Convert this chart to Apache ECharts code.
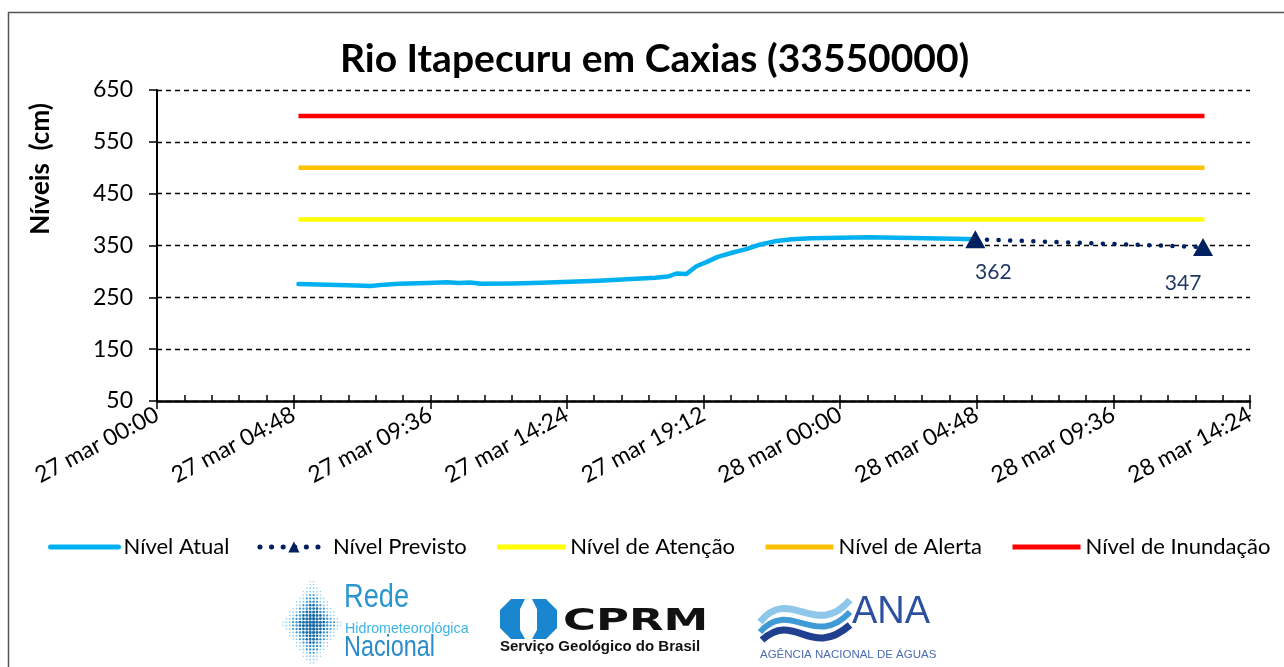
<!DOCTYPE html>
<html><head><meta charset="utf-8">
<script src="https://cdn.jsdelivr.net/npm/echarts@6/dist/echarts.min.js"></script>
<style>html,body{margin:0;padding:0;background:#fff}#c{width:1284px;height:667px}</style>
</head><body><div id="c"></div>
<script>
// ---------- data ----------
const chartTitle = 'Rio Itapecuru em Caxias (33550000)';
const yAxisTitle = 'Níveis  (cm)';
const yTickLabels = [50, 150, 250, 350, 450, 550, 650];
const xTickLabels = ['27 mar 00:00','27 mar 04:48','27 mar 09:36','27 mar 14:24','27 mar 19:12',
                     '28 mar 00:00','28 mar 04:48','28 mar 09:36','28 mar 14:24'];
// hours since 27 mar 00:00
const atualHours  = [4.97, 6.0, 7.0, 7.5, 8.0, 8.5, 9.5, 10.2, 10.6, 11.0, 11.4, 12.5, 13.5, 14.5, 15.5, 16.5, 17.5, 17.95, 18.25, 18.6, 18.95, 19.3, 19.7, 20.2, 20.7, 21.2, 21.7, 22.3, 23.0, 24.0, 25.0, 26.0, 27.0, 28.0, 28.75];
const atualValues = [275.5, 274.5, 273, 272, 274.5, 276, 277.5, 279, 277.5, 278.5, 276, 276.5, 278, 280, 282, 285, 288, 290, 296, 295, 310, 318, 328, 336, 343, 352, 358, 362, 364, 365, 366, 365, 364, 363, 362];
const previstoHours  = [28.75, 36.75];
const previstoValues = [362, 347];
const limiarHours = [4.97, 36.8];
const nivelAtencao = 400;
const nivelAlerta = 500;
const nivelInundacao = 600;

// ---------- chart ----------
const FONT = 'Lato';
const zip = (a, b) => a.map((v, i) => [v, b[i]]);
const flat = (hours, v) => hours.map(h => [h, v]);

const graphics = [];
// frame
graphics.push({type:'polyline', shape:{points:[[8.5,667],[8.5,12.5],[1284,12.5]]}, style:{stroke:'#555', lineWidth:1.5, fill:null}, silent:true});
// y axis title
graphics.push({type:'text', x:41, y:169, rotation:Math.PI/2, style:{text:yAxisTitle, font:'bold 26px Lato', fill:'#000', align:'center', verticalAlign:'middle'}, silent:true});
// Rede logo dots
for (let x = 283; x <= 343; x += 3.4) {
  for (let y = 578; y <= 665; y += 3.4) {
    const d = Math.abs(x - 312) / 31 + Math.abs(y - 624) / 46;
    if (d <= 1) {
      const t = 1 - d;
      const r = 0.7 + 1.2 * t;
      const c = t > 0.5 ? '#1d6ea6' : (t > 0.25 ? '#3a97cf' : '#8fcfee');
      graphics.push({type:'circle', shape:{cx:x, cy:y, r:r}, style:{fill:c}, silent:true});
    }
  }
}
graphics.push({type:'text', x:344, y:581, scaleX:0.8, style:{text:'Rede', font:'34px "Liberation Sans"', fill:'#2a96cf'}, silent:true});
graphics.push({type:'text', x:345, y:621, scaleX:0.95, style:{text:'Hidrometeorológica', font:'15px "Liberation Sans"', fill:'#3db4e6'}, silent:true});
graphics.push({type:'text', x:344, y:633, scaleX:0.78, style:{text:'Nacional', font:'30px "Liberation Sans"', fill:'#2a8cc8'}, silent:true});
// CPRM logo
graphics.push({type:'polygon', shape:{points:[[511,599],[525,599],[520,609],[520,630],[525,639],[511,639],[500,628],[500,610]]}, style:{fill:'#1a86d0'}, silent:true});
graphics.push({type:'polygon', shape:{points:[[546,599],[532,599],[537,609],[537,630],[532,639],[546,639],[557,628],[557,610]]}, style:{fill:'#1a86d0'}, silent:true});
graphics.push({type:'text', x:563, y:606, scaleX:1.45, style:{text:'CPRM', font:'bold 31px "DejaVu Sans"', fill:'#111'}, silent:true});
graphics.push({type:'text', x:500, y:639, style:{text:'Serviço Geológico do Brasil', font:'bold 15px "Liberation Sans"', fill:'#111'}, silent:true});
// ANA logo waves
graphics.push({type:'bezierCurve', shape:{x1:760,y1:622,x2:850,y2:600,cpx1:790,cpy1:585,cpx2:815,cpy2:640}, style:{stroke:'#8fc7ea', lineWidth:7, fill:null}, silent:true});
graphics.push({type:'bezierCurve', shape:{x1:760,y1:632,x2:850,y2:612,cpx1:790,cpy1:598,cpx2:815,cpy2:650}, style:{stroke:'#3f9ad6', lineWidth:6, fill:null}, silent:true});
graphics.push({type:'bezierCurve', shape:{x1:762,y1:640,x2:850,y2:625,cpx1:795,cpy1:610,cpx2:810,cpy2:660}, style:{stroke:'#213f8f', lineWidth:7, fill:null}, silent:true});
graphics.push({type:'text', x:852, y:594, style:{text:'ANA', font:'38px "Liberation Sans"', fill:'#2d4fa0'}, silent:true});
graphics.push({type:'text', x:760, y:649, style:{text:'AGÊNCIA NACIONAL DE ÁGUAS', font:'11.5px "Liberation Sans"', fill:'#4a6cb0'}, silent:true});

const hideSymbol = {opacity: 0};
const chart = echarts.init(document.getElementById('c'), null, {renderer:'canvas'});
chart.setOption({
  animation: false,
  backgroundColor: '#fff',
  textStyle: {fontFamily: FONT},
  title: {text: chartTitle, left: 340, top: 40, padding: 0,
    textStyle: {fontFamily: FONT, fontSize: 39, fontWeight: 'bold', color: '#000'}},
  grid: {left: 157, right: 34, top: 90, bottom: 266},
  legend: {
    top: 536, left: 48, itemWidth: 68, itemHeight: 14, itemGap: 28, padding: 0,
    textStyle: {fontFamily: FONT, fontSize: 22, color: '#000'},
    lineStyle: {width: 5},
    data: [
      {name: 'Nível Atual', itemStyle: hideSymbol},
      {name: 'Nível Previsto'},
      {name: 'Nível de Atenção', itemStyle: hideSymbol},
      {name: 'Nível de Alerta', itemStyle: hideSymbol},
      {name: 'Nível de Inundação', itemStyle: hideSymbol}
    ]
  },
  xAxis: [{
    type: 'value', min: 0, max: 38.4, interval: 4.8,
    axisLine: {show: true, lineStyle: {color: '#000', width: 2.5}},
    axisTick: {show: true, length: 8, lineStyle: {color: '#000', width: 1.5}},
    axisLabel: {rotate: 28, fontSize: 23, color: '#000', margin: 12, fontFamily: FONT,
      formatter: v => xTickLabels[Math.round(v / 4.8)]},
    splitLine: {show: false}
  }, {
    type: 'value', min: 0, max: 38.4, interval: 0.96, position: 'bottom',
    axisLine: {show: false},
    axisTick: {show: true, inside: true, length: 6, lineStyle: {color: '#000', width: 1.5}},
    axisLabel: {show: false}, splitLine: {show: false}
  }],
  yAxis: [{
    type: 'value', min: yTickLabels[0], max: yTickLabels[yTickLabels.length - 1],
    axisLine: {show: true, lineStyle: {color: '#000', width: 2}},
    axisTick: {show: false}, axisLabel: {show: false}, splitLine: {show: false}
  }, {
    type: 'value', min: 0, max: yTickLabels[yTickLabels.length - 1] - yTickLabels[0], interval: 100, position: 'left',
    axisLine: {show: false},
    axisTick: {show: true, length: 8, lineStyle: {color: '#000', width: 1.5}},
    axisLabel: {fontSize: 23, color: '#000', margin: 24, fontFamily: FONT,
      formatter: v => String(yTickLabels[Math.round(v / 100)])},
    splitLine: {show: true, lineStyle: {color: '#000', width: 1.3, type: [5, 4]}}
  }],
  series: [
    {name: 'Nível de Atenção', type: 'line', data: flat(limiarHours, nivelAtencao), symbol: 'none', z: 2,
      lineStyle: {color: '#FFFF00', width: 4.5}, itemStyle: {color: '#FFFF00'}},
    {name: 'Nível de Alerta', type: 'line', data: flat(limiarHours, nivelAlerta), symbol: 'none', z: 2,
      lineStyle: {color: '#FFC000', width: 4.5}, itemStyle: {color: '#FFC000'}},
    {name: 'Nível de Inundação', type: 'line', data: flat(limiarHours, nivelInundacao), symbol: 'none', z: 2,
      lineStyle: {color: '#FF0000', width: 4.5}, itemStyle: {color: '#FF0000'}},
    {name: 'Nível Atual', type: 'line', data: zip(atualHours, atualValues), symbol: 'none', z: 3,
      lineStyle: {color: '#00B0F0', width: 4.5, join: 'round', cap: 'round'}, itemStyle: {color: '#00B0F0'}},
    {name: 'Nível Previsto', type: 'line', z: 4,
      data: zip(previstoHours, previstoValues).map((p, i) => ({
        value: p,
        label: {show: true, position: 'bottom', offset: i === 0 ? [18, 8] : [-20, 12]}
      })),
      symbol: 'triangle', symbolSize: [20, 18],
      lineStyle: {color: '#002060', width: 4.5, type: [0.1, 11.5], cap: 'round'},
      itemStyle: {color: '#002060'},
      label: {show: true, fontSize: 21, color: '#1F3864', fontFamily: FONT,
        formatter: p => String(p.value[1])}}
  ],
  graphic: graphics
});
</script></body></html>
